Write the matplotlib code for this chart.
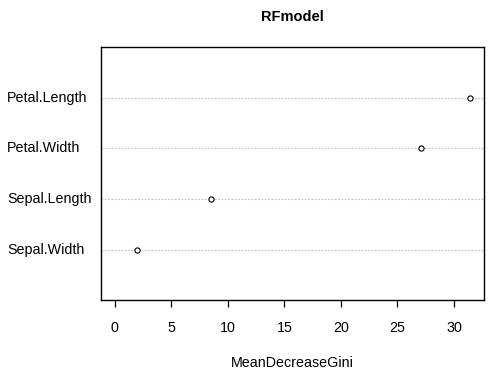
import matplotlib
matplotlib.use("Agg")
import matplotlib.pyplot as plt
from matplotlib.transforms import blended_transform_factory

plt.rcParams['font.family'] = ['Liberation Sans', 'DejaVu Sans']

# variable importance (bottom to top)
variables = ['Sepal.Width', 'Sepal.Length', 'Petal.Width', 'Petal.Length']
gini = [2.0, 8.5, 27.1, 31.4]
xticks = [0, 5, 10, 15, 20, 25, 30]

fig = plt.figure(figsize=(5, 3.71), dpi=100)
ax = fig.add_axes([0.201, 0.191, 0.767, 0.682])

ypos = list(range(1, len(variables) + 1))
for y in ypos:
    ax.axhline(y, color='#bebebe', lw=0.8, ls=(0, (1.5, 1.5)), zorder=1)
ax.scatter(gini, ypos, s=14, facecolor='white', edgecolor='black', lw=0.8, zorder=3)

xmax = max(gini)
pad = xmax * 0.04
ax.set_xlim(-pad, xmax + pad)
ax.set_ylim(0, len(variables) + 1)

ax.set_xticks(xticks)
ax.set_xticklabels([str(t) for t in xticks], fontsize=10.3)
ax.tick_params(axis='x', length=5, width=0.9, pad=10, direction='out')
ax.set_yticks([])
for s in ax.spines.values():
    s.set_linewidth(1.0)

trans = blended_transform_factory(fig.transFigure, ax.transData)
for y, name in zip(ypos, variables):
    ax.text(7 / 500, y, name, transform=trans, ha='left', va='center', fontsize=10.3)

ax.set_xlabel('MeanDecreaseGini', fontsize=10.3, labelpad=15)
fig.text(0.584, 0.955, 'RFmodel', ha='center', va='center', fontsize=10.5, fontweight='bold')

fig.savefig('out.png', dpi=100)
